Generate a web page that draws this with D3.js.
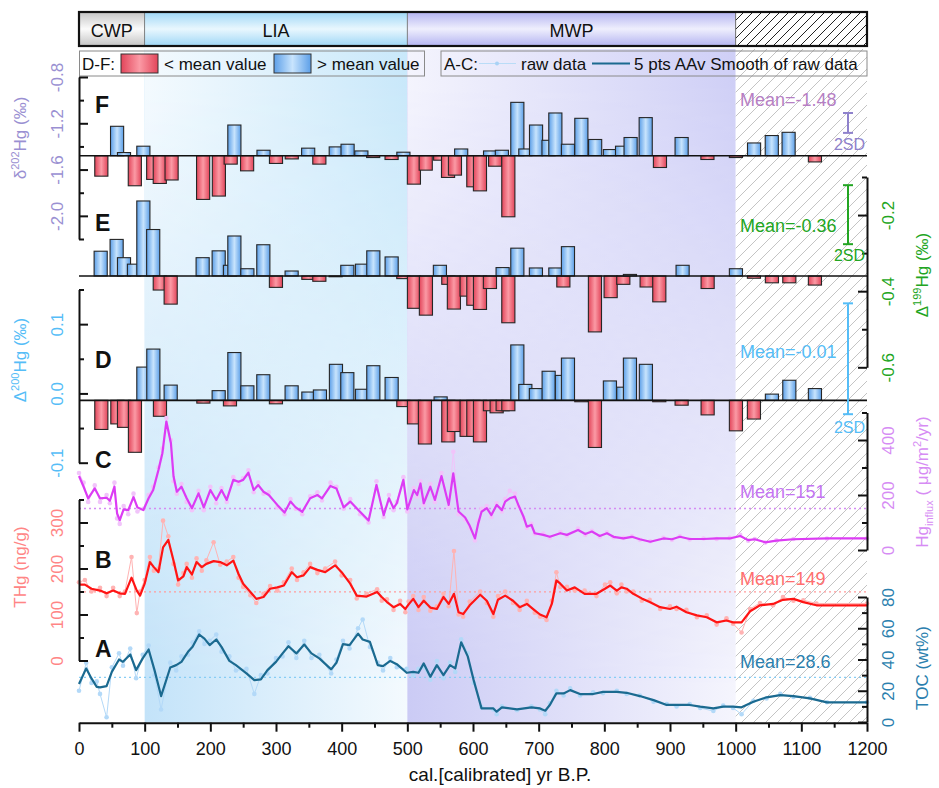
<!DOCTYPE html>
<html>
<head>
<meta charset="utf-8">
<script src="https://cdnjs.cloudflare.com/ajax/libs/d3/7.8.5/d3.min.js"></script>
<style>
  body { margin: 0; background: #fff; }
  text { font-family: "Liberation Sans", Arial, sans-serif; }
</style>
</head>
<body>
<div id="viz"></div>
<script>
// ---------- data ----------
var periodNames = ["CWP", "LIA", "MWP", ""];
var periodStart = [0, 100, 500, 1000];
var periodEnd = [100, 500, 1000, 1200];

// F: d202Hg
var ageF = [34,58,68.5,85,98,113,123,141,189,213,231,236.6,256,281,300,324,349,366,391,409,430,448,476,494,510,528,550,562,572.5,582,600.5,610.6,626,633.7,644,653.8,667.5,679.7,696,715,725.4,744.6,765,786,808.5,827,840,863,884.7,917.7,957,1000.4,1028,1055,1080.6,1120.7];
var valF = [-1.657,-1.226,-1.453,-1.740,-1.398,-1.685,-1.720,-1.690,-1.858,-1.829,-1.553,-1.215,-1.611,-1.433,-1.547,-1.508,-1.415,-1.553,-1.404,-1.381,-1.439,-1.496,-1.513,-1.450,-1.726,-1.605,-1.519,-1.668,-1.648,-1.422,-1.749,-1.784,-1.439,-1.571,-1.433,-2.008,-1.019,-1.422,-1.215,-1.347,-1.111,-1.381,-1.157,-1.340,-1.427,-1.398,-1.323,-1.151,-1.582,-1.323,-1.513,-1.496,-1.370,-1.306,-1.278,-1.534];
var meanF = -1.48, twoSdF = 0.172, sdMidF = -1.197;

// E: D199Hg
var ageE = [33,57.3,68.5,83.7,98,113,123,139.6,188.3,212.7,229.9,236.6,256.4,280.7,299.9,323.8,349.3,366,390.8,408.6,430.9,448.2,476.1,493.9,510.1,528.3,549.6,562.4,570.9,590.3,600.5,610.6,625.8,645.1,653.8,667.5,695.8,725.4,737.6,744.6,785.7,809.6,828.9,839,864.4,883.7,919.2,957.3,1000.4,1027.8,1055.2,1081.7,1120.7];
var valE = [-0.295,-0.264,-0.312,-0.329,-0.163,-0.238,-0.397,-0.434,-0.312,-0.294,-0.332,-0.255,-0.341,-0.278,-0.390,-0.347,-0.369,-0.374,-0.362,-0.332,-0.329,-0.294,-0.310,-0.367,-0.445,-0.463,-0.332,-0.382,-0.447,-0.413,-0.437,-0.448,-0.393,-0.338,-0.483,-0.287,-0.339,-0.339,-0.389,-0.283,-0.507,-0.417,-0.382,-0.356,-0.389,-0.428,-0.332,-0.393,-0.341,-0.366,-0.378,-0.378,-0.384];
var meanE = -0.36, twoSdE = 0.155, sdMidE = -0.199;

// D: D200Hg
var ageD = [34,58.4,68.5,85.2,98,113.2,123.3,139.6,189.4,212.7,229.9,236.6,256.4,280.7,299.9,323.8,349.3,366.9,391.3,408.6,430.9,448.2,476.1,493.9,510.1,526.8,550.7,562.4,570.9,590.3,600.5,610.6,625.8,636,645.1,653.8,667.5,679.7,695.8,715.2,735.4,744.6,765,785.7,808.5,828.9,839,863.3,883.7,917.7,957.3,1000.4,1027.8,1055.2,1081.7,1120.7];
var valD = [-0.052,-0.044,-0.049,-0.085,0.038,0.064,-0.033,0.012,-0.014,0.004,-0.018,0.059,0.011,0.027,-0.015,0.011,0.002,0.005,0.042,0.030,0.006,0.040,0.023,-0.019,-0.044,-0.073,-0.005,-0.070,-0.055,-0.062,-0.062,-0.070,-0.025,-0.028,-0.025,-0.025,0.070,0.013,0.007,0.032,0.026,0.051,-0.012,-0.078,0.018,0.009,0.051,0.042,-0.012,-0.017,-0.031,-0.054,-0.037,-0.001,0.019,0.007];
var meanD = -0.01, twoSdD = 0.16, sdMidD = 0.05;

// C: Hg influx
var ageC = [0,7,14,24,32,42,47,54,58,62,68,75,83,89,98,106,113,121,127,133,140,144,149,156,164,172,182,190,200,209,217,225,235,243,250,258,266,273,281,289,302,313,322,330,340,352,363,370,383,392,403,413,428,441,453,464,472,479,484,494,500,510,515,520,525,535,542,552,563,570,578,588,595,603,608,613,621,628,636,644,649,656,664,669,677,682,689,694,707,717,733,743,760,771,781,793,804,814,829,842,854,870,890,903,915,930,951,971,991,1007,1019,1029,1045,1062,1088,1139,1200];
var smoothC = [269,230,188,224,188,190,179,230,133,109,148,145,192,155,145,188,218,291,352,467,388,267,212,230,188,152,206,155,218,182,218,182,255,248,255,281,218,236,212,200,164,136,176,155,139,188,200,188,233,224,155,176,139,107,236,127,188,152,170,255,148,218,200,242,170,230,182,269,164,279,140,118,88,42,97,139,152,127,164,145,176,188,194,164,121,85,91,61,55,48,61,55,73,58,67,51,61,48,42,48,39,30,42,39,48,40,40,42,42,51,36,39,28,34,39,42,42];
var rawC = [280,245,175,235,175,200,170,245,115,95,160,130,205,140,150,200,230,300,370,480,400,250,205,240,175,145,215,145,230,170,225,175,265,240,262,290,210,245,205,210,155,130,185,150,130,195,210,180,245,230,150,185,130,100,250,120,200,145,175,265,140,225,195,250,165,240,175,280,155,357,130,110,80,35,105,150,160,120,170,140,185,215,205,160,115,80,95,58,60,45,65,52,78,55,70,48,64,46,44,50,37,32,44,37,50,38,42,40,44,55,34,40,27,35,40,42,42];
var meanC = 151;

// B: THg
var ageB = [0,9,19,32,42,52,62,70,80,88,93,100,108,114,121,128,136,144,151,159,164,172,179,187,194,205,215,225,235,243,250,261,270,281,291,302,312,324,332,342,352,363,375,390,400,413,423,438,454,461,469,479,489,497,502,509,517,525,535,545,555,563,571,578,585,595,611,621,631,638,649,661,671,682,694,702,712,720,727,733,743,755,770,788,801,809,819,826,834,844,857,869,885,900,910,925,941,956,971,986,996,1009,1022,1037,1057,1072,1088,1103,1123,1200];
var smoothB = [165,165,156,152,146,152,146,145,180,152,141,167,214,203,192,246,262,217,174,183,203,187,214,203,210,216,214,207,217,188,167,149,134,138,156,159,163,192,181,185,203,197,192,207,192,167,141,139,149,138,127,116,123,112,122,134,116,130,115,112,138,123,145,105,101,120,143,130,101,132,141,130,116,123,109,100,94,123,174,167,152,159,145,145,156,163,152,159,156,145,135,127,116,112,117,105,98,94,83,87,83,83,107,120,123,132,134,127,120,120];
var rawB = [170,175,150,158,140,158,140,150,225,103,150,175,225,195,200,304,270,210,165,190,210,180,222,195,218,257,208,215,225,180,160,142,125,145,162,152,170,200,175,192,210,190,200,215,185,175,135,145,155,130,133,110,130,105,128,140,110,138,108,118,145,118,238,100,95,128,150,125,95,140,150,125,110,130,104,95,88,130,192,160,160,152,152,140,165,170,146,165,150,150,130,132,112,118,112,110,94,98,78,92,80,61,112,125,120,138,130,131,124,124];
var meanB = 149;

// A: TOC
var ageA = [0,11,19,27,32,42,50,61,67,78,87,97,106,115,125,139,148,156,166,173,183,191,199,209,217,229,239,255,267,277,287,300,310,319,331,343,354,366,384,392,402,412,425,432,443,455,463,474,484,499,509,517,525,535,545,555,565,573,582,592,601,613,631,636,644,667,689,702,710,717,727,738,748,763,783,798,819,834,854,875,895,910,930,946,966,981,996,1009,1027,1047,1068,1088,1113,1139,1200];
var smoothA = [24.3,34.3,27.9,22.5,22.2,23,32.1,40,38.5,43.2,33.2,40.7,46.4,33.2,16.6,34.9,36.4,38.5,44.9,48.1,56,53.4,49.2,52.8,48.1,39.1,36.4,31.1,26.8,27.3,33.2,38.5,43.9,48.5,43.9,49.6,43.9,40.7,33.7,37.9,49.8,49.2,56.6,52.8,51.3,36.4,35.8,39.1,37,31.5,32.1,31.5,37.5,28.9,36.4,30,36.4,34.3,51,42,26.8,8.7,8.7,6.6,9.4,8.1,9.4,8.7,7.2,10.9,18.3,18.3,20.4,17.9,17.9,19.3,19.3,18.7,16.6,14,10.9,10.9,10.9,9.8,8.7,9.8,9.8,9.4,13,15.8,17.2,16.6,15.1,12.6,12.6];
var rawA = [20,38,25,26,18,3,35,44,36,47,28,43,49,30,8,38,33,42,43,51,58,50,52,56,45,42,33,34,18,30,31,41,42,51,41,52,41,43,31,40,52,47,60,65.6,48,38,33,41,35,34,30,34,35,27,39,28,38,32,53,44,25,9.5,8,5,10,7.5,10,8,5,12,20,17,21.5,17,19,18.5,20,18,17,13,11.5,10,11.5,9,7,10.5,9,5,13.5,15,18,16,15.5,12.6,12.6];
var meanA = 28.6;

// ---------- layout ----------
var W = 939, H = 788;
var svg = d3.select("#viz").append("svg").attr("width", W).attr("height", H);
var defs = svg.append("defs");

var x = d3.scaleLinear().domain([0, 1200]).range([79, 867]);
var yF = d3.scaleLinear().domain([-2.2, -0.8]).range([239, 77]);
var yE = d3.scaleLinear().domain([-0.6, -0.1]).range([367.3, 177]);
var yD = d3.scaleLinear().domain([-0.1, 0.15]).range([462.7, 289.5]);
var yC = d3.scaleLinear().domain([0, 500]).range([550, 412.5]);
var yB = d3.scaleLinear().domain([0, 350]).range([660.5, 499.5]);
var yA = d3.scaleLinear().domain([0, 80]).range([722, 597]);
var shadeTop = 49, axisY = 722.7;

function lin(id, stops, vertical) {
  var g = defs.append("linearGradient").attr("id", id)
    .attr("x1", 0).attr("y1", 0).attr("x2", vertical ? 0 : 1).attr("y2", vertical ? 1 : 0);
  stops.forEach(function(s) { g.append("stop").attr("offset", s[0]).attr("stop-color", s[1]); });
}
lin("liaBot", [[0, "#c3e3f9"], [1, "#f4fafe"]]);
lin("liaTop", [[0, "#f4fafe"], [1, "#c9e8fa"]]);
lin("mwpBot", [[0, "#cbcbf5"], [1, "#f5f5fd"]]);
lin("mwpTop", [[0, "#f4f4fd"], [1, "#cfcff6"]]);
lin("fade", [[0.05, "#fff"], [0.95, "#000"]], true);
lin("bandCWP", [[0, "#c4c4c4"], [0.5, "#fbfbfb"], [1, "#c4c4c4"]], true);
lin("bandLIA", [[0, "#9fd7f6"], [0.5, "#e9f7fe"], [1, "#9fd7f6"]], true);
lin("bandMWP", [[0, "#b4b4f1"], [0.5, "#efeffd"], [1, "#b4b4f1"]], true);
lin("gRed", [[0, "#e2455a"], [0.5, "#fb9aa5"], [1, "#e2455a"]]);
lin("gBlue", [[0, "#5c9fe8"], [0.5, "#c8e4fd"], [1, "#5c9fe8"]]);

defs.append("mask").attr("id", "fadeMask").attr("maskContentUnits", "objectBoundingBox")
  .append("rect").attr("width", 1).attr("height", 1).attr("fill", "url(#fade)");

var hatch = defs.append("pattern").attr("id", "hatch").attr("patternUnits", "userSpaceOnUse")
  .attr("width", 12).attr("height", 12);
hatch.append("path").attr("d", "M-3,3 L3,-3 M0,12 L12,0 M9,15 L15,9")
  .attr("stroke", "#c4c4c4").attr("stroke-width", 1);
var hatchK = defs.append("pattern").attr("id", "hatchK").attr("patternUnits", "userSpaceOnUse")
  .attr("width", 9).attr("height", 9);
hatchK.append("path").attr("d", "M-2,2 L2,-2 M0,9 L9,0 M7,11 L11,7")
  .attr("stroke", "#222").attr("stroke-width", 1);

// ---------- background periods ----------
var bg = svg.append("g");
[[1, "lia"], [2, "mwp"]].forEach(function(p) {
  var i = p[0], x0 = x(periodStart[i]), w = x(periodEnd[i]) - x(periodStart[i]);
  bg.append("rect").attr("x", x0).attr("y", shadeTop).attr("width", w).attr("height", axisY - shadeTop)
    .attr("fill", "url(#" + p[1] + "Bot)");
  bg.append("rect").attr("x", x0).attr("y", shadeTop).attr("width", w).attr("height", axisY - shadeTop)
    .attr("fill", "url(#" + p[1] + "Top)").attr("mask", "url(#fadeMask)");
});
bg.append("rect").attr("x", x(periodStart[3])).attr("y", shadeTop)
  .attr("width", x(periodEnd[3]) - x(periodStart[3])).attr("height", axisY - shadeTop)
  .attr("fill", "url(#hatch)");

// ---------- top period band ----------
var band = svg.append("g");
var bandFill = ["url(#bandCWP)", "url(#bandLIA)", "url(#bandMWP)", "url(#hatchK)"];
periodNames.forEach(function(n, i) {
  band.append("rect").attr("x", x(periodStart[i])).attr("y", 12)
    .attr("width", x(periodEnd[i]) - x(periodStart[i])).attr("height", 34)
    .attr("fill", bandFill[i]).attr("stroke", "#777").attr("stroke-width", 0.8);
  if (n) band.append("text").attr("x", (x(periodStart[i]) + x(periodEnd[i])) / 2).attr("y", 37)
    .attr("text-anchor", "middle").attr("font-size", 18).attr("fill", "#111").text(n);
});
band.append("rect").attr("x", 79).attr("y", 12).attr("width", 788).attr("height", 34)
  .attr("fill", "none").attr("stroke", "#111").attr("stroke-width", 2.2);

// ---------- legends ----------
var leg = svg.append("g").attr("font-size", 17).attr("fill", "#111");
leg.append("rect").attr("x", 79.5).attr("y", 51).attr("width", 345).attr("height", 25)
  .attr("fill", "none").attr("stroke", "#8a8a8a");
leg.append("text").attr("x", 82).attr("y", 70).text("D-F:");
leg.append("rect").attr("x", 121).attr("y", 54).attr("width", 37).attr("height", 19)
  .attr("fill", "url(#gRed)").attr("stroke", "#333");
leg.append("text").attr("x", 164).attr("y", 70).text("< mean value");
leg.append("rect").attr("x", 274).attr("y", 54).attr("width", 37).attr("height", 19)
  .attr("fill", "url(#gBlue)").attr("stroke", "#333");
leg.append("text").attr("x", 317).attr("y", 70).text("> mean value");

leg.append("rect").attr("x", 441).attr("y", 51).attr("width", 426).attr("height", 25)
  .attr("fill", "none").attr("stroke", "#8a8a8a");
leg.append("text").attr("x", 444).attr("y", 70).text("A-C:");
leg.append("line").attr("x1", 479).attr("x2", 516).attr("y1", 63.5).attr("y2", 63.5)
  .attr("stroke", "#b9dcf7").attr("stroke-width", 1);
leg.append("circle").attr("cx", 497).attr("cy", 63.5).attr("r", 2).attr("fill", "#a9d2f5");
leg.append("text").attr("x", 521).attr("y", 70).text("raw data");
leg.append("line").attr("x1", 592).attr("x2", 630).attr("y1", 63.5).attr("y2", 63.5)
  .attr("stroke", "#1b6a90").attr("stroke-width", 2);
leg.append("text").attr("x", 634).attr("y", 70).text("5 pts AAv Smooth of raw data");

// ---------- mean dotted lines for A-C ----------
var dots = svg.append("g").attr("stroke-width", 1.3).attr("stroke-dasharray", "2,3");
[[yC, meanC, "#d58cf3"], [yB, meanB, "#ff9c9c"], [yA, meanA, "#86cdf5"]].forEach(function(m) {
  dots.append("line").attr("x1", 79).attr("x2", 867).attr("y1", m[0](m[1])).attr("y2", m[0](m[1]))
    .attr("stroke", m[2]);
});

// ---------- bar panels D-F ----------
var barW = x(20) - x(0);
function bars(ages, vals, mean, y) {
  var data = ages.map(function(a, i) { return { age: a, v: vals[i] }; });
  var g = svg.append("g");
  g.selectAll("rect").data(data).enter().append("rect")
    .attr("x", function(d) { return x(d.age) - barW / 2; })
    .attr("width", barW)
    .attr("y", function(d) { return Math.min(y(d.v), y(mean)); })
    .attr("height", function(d) { return Math.max(0.8, Math.abs(y(d.v) - y(mean))); })
    .attr("fill", function(d) { return d.v < mean ? "url(#gRed)" : "url(#gBlue)"; })
    .attr("stroke", "#262626").attr("stroke-width", 1.1);
  g.append("line").attr("x1", 79).attr("x2", 867).attr("y1", y(mean)).attr("y2", y(mean))
    .attr("stroke", "#111").attr("stroke-width", 1.6);
}
bars(ageF, valF, meanF, yF);
bars(ageE, valE, meanE, yE);
bars(ageD, valD, meanD, yD);

// ---------- line panels A-C ----------
function series(ages, raw, smooth, y, rawCol, lineCol) {
  var g = svg.append("g");
  var r = ages.map(function(a, i) { return { age: a, v: raw[i] }; });
  var s = ages.map(function(a, i) { return { age: a, v: smooth[i] }; });
  var line = d3.line().x(function(d) { return x(d.age); }).y(function(d) { return y(d.v); });
  g.append("path").datum(r).attr("d", line).attr("fill", "none")
    .attr("stroke", rawCol).attr("stroke-width", 1);
  g.selectAll("circle").data(r).enter().append("circle")
    .attr("cx", function(d) { return x(d.age); }).attr("cy", function(d) { return y(d.v); })
    .attr("r", 2.3).attr("fill", rawCol);
  g.append("path").datum(s).attr("d", line).attr("fill", "none")
    .attr("stroke", lineCol).attr("stroke-width", 2.2).attr("stroke-linejoin", "round");
}
series(ageC, rawC, smoothC, yC, "#f1c4fa", "#dc3cf4");
series(ageB, rawB, smoothB, yB, "#ffb3b3", "#ff1414");
series(ageA, rawA, smoothA, yA, "#b3d9f8", "#1b6a90");

// ---------- axes ----------
function yAxis(side, scale, major, minor, fmt, color) {
  var left = side === "left";
  var xpos = left ? 79 : 867;
  var g = svg.append("g").attr("transform", "translate(" + xpos + ",0)");
  var ax = (left ? d3.axisLeft(scale) : d3.axisRight(scale))
    .tickValues(major).tickFormat(d3.format(fmt)).tickSizeInner(-9).tickSizeOuter(0);
  g.call(ax);
  g.select(".domain").attr("stroke", "#111").attr("stroke-width", 2);
  g.selectAll(".tick line").attr("stroke", "#111").attr("stroke-width", 2);
  g.selectAll(".tick text").attr("x", 0).attr("dy", null).attr("y", left ? -16 : 27)
    .attr("transform", "rotate(-90)").attr("text-anchor", "middle")
    .attr("font-size", 17).attr("fill", color)
    .text(function(d) { return d3.format(fmt)(d).replace("−", "-"); });
  var gm = svg.append("g").attr("transform", "translate(" + xpos + ",0)");
  gm.call((left ? d3.axisLeft(scale) : d3.axisRight(scale))
    .tickValues(minor).tickFormat("").tickSizeInner(-5).tickSizeOuter(0));
  gm.select(".domain").remove();
  gm.selectAll(".tick line").attr("stroke", "#111").attr("stroke-width", 2);
}
yAxis("left", yF, [-0.8, -1.2, -1.6, -2.0], [-1.0, -1.4, -1.8, -2.2], ".1f", "#9a90d2");
yAxis("right", yE, [-0.2, -0.4, -0.6], [-0.1, -0.3, -0.5], ".1f", "#22a522");
yAxis("left", yD, [0.1, 0.0, -0.1], [0.15, 0.05, -0.05], ".1f", "#55bdf7");
yAxis("right", yC, [0, 200, 400], [100, 300, 500], "d", "#d68cf4");
yAxis("left", yB, [0, 100, 200, 300], [50, 150, 250, 350], "d", "#ff8585");
yAxis("right", yA, [0, 20, 40, 60, 80], [10, 30, 50, 70], "d", "#2b7fae");

var gx = svg.append("g").attr("transform", "translate(0," + axisY + ")");
gx.call(d3.axisBottom(x).tickValues(d3.range(0, 1201, 100)).tickFormat(d3.format("d"))
  .tickSizeInner(9).tickSizeOuter(0).tickPadding(11));
gx.select(".domain").attr("stroke", "#111").attr("stroke-width", 2);
gx.selectAll(".tick line").attr("stroke", "#111").attr("stroke-width", 2);
gx.selectAll(".tick text").attr("font-size", 18).attr("fill", "#111");
var gxm = svg.append("g").attr("transform", "translate(0," + axisY + ")");
gxm.call(d3.axisBottom(x).tickValues(d3.range(50, 1200, 100)).tickFormat("").tickSizeInner(5).tickSizeOuter(0));
gxm.select(".domain").remove();
gxm.selectAll(".tick line").attr("stroke", "#111").attr("stroke-width", 2);

svg.append("text").attr("x", 500).attr("y", 781).attr("text-anchor", "middle")
  .attr("font-size", 19).attr("fill", "#111").text("cal.[calibrated] yr B.P.");

// ---------- axis titles ----------
function title(xc, yc, color, parts) {
  var t = svg.append("text").attr("transform", "translate(" + xc + "," + yc + ") rotate(-90)")
    .attr("text-anchor", "middle").attr("font-size", 17).attr("fill", color);
  parts.forEach(function(p) {
    t.append("tspan").attr("dy", p[1]).attr("font-size", p[2] || 17).text(p[0]);
  });
}
title(26, 138, "#9a90d2", [["δ", 0], ["202", -7, 11], ["Hg (‰)", 7]]);
title(26, 360, "#55bdf7", [["Δ", 0], ["200", -7, 11], ["Hg (‰)", 7]]);
title(26, 567, "#ff8585", [["THg (ng/g)", 0]]);
title(928, 275, "#22a522", [["Δ", 0], ["199", -7, 11], ["Hg (‰)", 7]]);
title(928, 482, "#d68cf4", [["Hg", 0], ["influx", 5, 11], [" ( μg/m", -5], ["2", -7, 11], ["/yr)", 7]]);
title(928, 668, "#2b7fae", [["TOC (wt%)", 0]]);

// ---------- panel letters ----------
var letters = [["F", 113], ["E", 231], ["D", 368], ["C", 468], ["B", 568], ["A", 657]];
letters.forEach(function(l) {
  svg.append("text").attr("x", 95).attr("y", l[1]).attr("font-size", 23)
    .attr("font-weight", "bold").attr("fill", "#111").text(l[0]);
});

// ---------- mean labels & 2SD bars ----------
var means = [["Mean=-1.48", 106, "#b67fc4"], ["Mean=-0.36", 232, "#22a522"], ["Mean=-0.01", 358, "#55bdf7"],
             ["Mean=151", 498, "#c575f2"], ["Mean=149", 585, "#ff6f6f"], ["Mean=28.6", 668, "#2b7fae"]];
means.forEach(function(m) {
  svg.append("text").attr("x", 740).attr("y", m[1]).attr("font-size", 18).attr("fill", m[2]).text(m[0]);
});
function sdBar(y, mid, two, color, labelY) {
  var g = svg.append("g").attr("stroke", color).attr("stroke-width", 2);
  var y1 = y(mid - two / 2), y2 = y(mid + two / 2);
  g.append("line").attr("x1", 848).attr("x2", 848).attr("y1", y1).attr("y2", y2);
  g.append("line").attr("x1", 843).attr("x2", 853).attr("y1", y1).attr("y2", y1);
  g.append("line").attr("x1", 843).attr("x2", 853).attr("y1", y2).attr("y2", y2);
  svg.append("text").attr("x", 865).attr("y", labelY).attr("text-anchor", "end")
    .attr("font-size", 16).attr("fill", color).text("2SD");
}
sdBar(yF, sdMidF, twoSdF, "#8f82cc", 150);
sdBar(yE, sdMidE, twoSdE, "#22a522", 261);
sdBar(yD, sdMidD, twoSdD, "#55bdf7", 433);
</script>
</body>
</html>
